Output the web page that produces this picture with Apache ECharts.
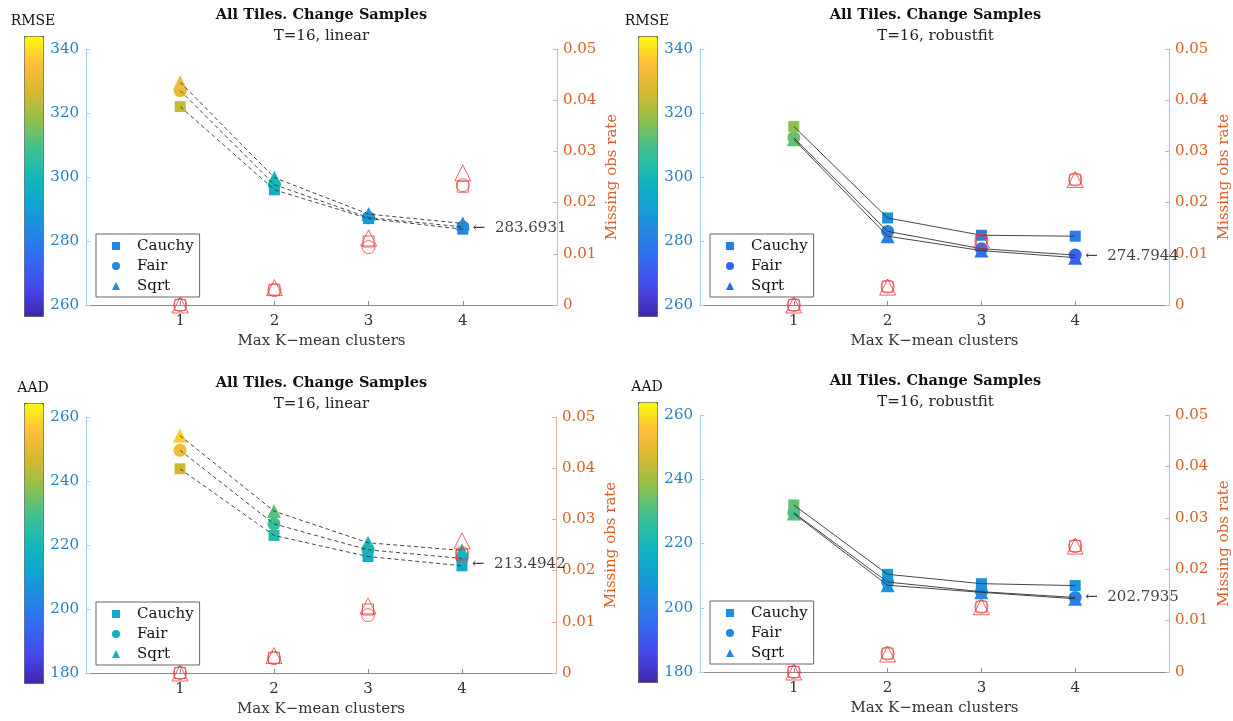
<!DOCTYPE html>
<html>
<head>
<meta charset="utf-8">
<title>All Tiles. Change Samples</title>
<script src="https://cdn.jsdelivr.net/npm/echarts@6/dist/echarts.min.js"></script>
<style>
  html, body { margin: 0; padding: 0; background: #ffffff; }
  #chart { width: 1233px; height: 721px; }
</style>
</head>
<body>
<div id="chart"></div>
<script>
// ---- data -------------------------------------------------------------
const clusters = [1, 2, 3, 4];
const estimators = ['Cauchy', 'Fair', 'Sqrt'];

// RMSE, linear fit
const rmseLinCauchy = [322.0, 296.0, 287.0, 283.6931];
const rmseLinFair   = [327.0, 297.6, 287.3, 284.4];
const rmseLinSqrt   = [329.6, 299.8, 288.4, 285.5];
// RMSE, robustfit
const rmseRobCauchy = [315.8, 287.2, 281.8, 281.5];
const rmseRobFair   = [312.3, 283.0, 277.6, 275.6];
const rmseRobSqrt   = [311.8, 281.5, 277.0, 274.7944];
// AAD, linear fit
const aadLinCauchy  = [243.8, 223.0, 216.4, 213.4942];
const aadLinFair    = [249.6, 226.6, 218.5, 215.8];
const aadLinSqrt    = [254.2, 230.6, 220.7, 218.3];
// AAD, robustfit
const aadRobCauchy  = [232.0, 210.4, 207.5, 206.9];
const aadRobFair    = [229.6, 208.0, 205.0, 203.2];
const aadRobSqrt    = [229.3, 207.0, 204.8, 202.7935];

// Missing observation rate (right axis)
const missLinCauchy = [0, 0.0030, 0.0124, 0.0231];
const missLinFair   = [0, 0.0029, 0.0113, 0.0234];
const missLinSqrt   = [0, 0.0034, 0.0131, 0.0258];
const missRobCauchy = [0, 0.0036, 0.0127, 0.0245];
const missRobFair   = [0, 0.0036, 0.0127, 0.0245];
const missRobSqrt   = [0, 0.0035, 0.0127, 0.0245];

const rmseRange = [260, 340];
const aadRange  = [180, 260];
const missRange = [0, 0.05];

// ---- styling ------------------------------------------------------------
const FONT = 'DejaVu Serif';
const PARULA = ['#3e26a8', '#4747eb', '#3468f2', '#2387e2', '#10a4d2', '#13b8b8',
                '#40c190', '#90c04c', '#d6b832', '#fdbe3a', '#f9fb0e'];
const LEFT_LABEL = '#2a7fc2', LEFT_LINE = '#a3cfe0';
const RIGHT_LABEL = '#d9602a', RIGHT_LINE = '#e8b092';
const MISS_RED = '#e8403e';
const SHAPES = ['rect', 'circle', 'triangle'];
const SIZES = [11, 13, 14];
const MISS_SIZES = [11, 13, 16];

function hexToRgb(h) { return [1, 3, 5].map(i => parseInt(h.slice(i, i + 2), 16)); }
function parula(v, lo, hi) {
  let t = Math.max(0, Math.min(1, (v - lo) / (hi - lo))) * (PARULA.length - 1);
  const i = Math.min(Math.floor(t), PARULA.length - 2), f = t - i;
  const a = hexToRgb(PARULA[i]), b = hexToRgb(PARULA[i + 1]);
  return 'rgb(' + a.map((c, k) => Math.round(c + (b[k] - c) * f)).join(',') + ')';
}

const panels = [
  { grid: { left: 86, top: 49, width: 471, height: 256 }, cb: [24, 36], cbLabel: 'RMSE', cbLabelPos: [33, 21],
    title: [321.5, 15, 36], sub: 'T=16, linear', legend: [96, 234], range: rmseRange, dashed: true,
    vals: [rmseLinCauchy, rmseLinFair, rmseLinSqrt], miss: [missLinCauchy, missLinFair, missLinSqrt] },
  { grid: { left: 700, top: 49, width: 471, height: 256 }, cb: [638, 36], cbLabel: 'RMSE', cbLabelPos: [647, 21],
    title: [935.5, 15, 36], sub: 'T=16, robustfit', legend: [710, 234], range: rmseRange, dashed: false,
    vals: [rmseRobCauchy, rmseRobFair, rmseRobSqrt], miss: [missRobCauchy, missRobFair, missRobSqrt] },
  { grid: { left: 86, top: 417, width: 470, height: 256 }, cb: [24, 403], cbLabel: 'AAD', cbLabelPos: [33, 388],
    title: [321.5, 383, 404], sub: 'T=16, linear', legend: [96, 602], range: aadRange, dashed: true,
    vals: [aadLinCauchy, aadLinFair, aadLinSqrt], miss: [missLinCauchy, missLinFair, missLinSqrt] },
  { grid: { left: 700, top: 415, width: 471, height: 257 }, cb: [638, 402], cbLabel: 'AAD', cbLabelPos: [647, 387],
    title: [935.5, 381, 402], sub: 'T=16, robustfit', legend: [710, 601], range: aadRange, dashed: false,
    vals: [aadRobCauchy, aadRobFair, aadRobSqrt], miss: [missRobCauchy, missRobFair, missRobSqrt] }
];

const option = {
  animation: false,
  backgroundColor: '#ffffff',
  textStyle: { fontFamily: FONT },
  grid: [], xAxis: [], yAxis: [], series: [], visualMap: [], legend: [], graphic: []
};

panels.forEach((p, pi) => {
  option.grid.push(Object.assign({ containLabel: false }, p.grid));

  option.xAxis.push({
    type: 'value', gridIndex: pi, min: 0, max: 5, interval: 1,
    name: 'Max K\u2212mean clusters', nameLocation: 'middle', nameGap: 29,
    nameTextStyle: { fontFamily: FONT, fontSize: 15, color: '#333' },
    axisLine: { show: true, lineStyle: { color: '#8c8c8c', width: 1 } },
    axisTick: { show: true, inside: true, length: 4, customValues: clusters, lineStyle: { color: '#8c8c8c' } },
    axisLabel: { customValues: clusters, margin: 9, fontFamily: FONT, fontSize: 15, color: '#333' },
    splitLine: { show: false }
  });

  option.yAxis.push({
    type: 'value', gridIndex: pi, position: 'left', min: p.range[0], max: p.range[1], interval: 20,
    axisLine: { show: true, lineStyle: { color: LEFT_LINE, width: 1 } },
    axisTick: { show: true, inside: true, length: 4, lineStyle: { color: LEFT_LINE } },
    axisLabel: { margin: 7, fontFamily: FONT, fontSize: 15, color: LEFT_LABEL },
    splitLine: { show: false }
  });
  option.yAxis.push({
    type: 'value', gridIndex: pi, position: 'right', min: missRange[0], max: missRange[1], interval: 0.01,
    name: 'Missing obs rate', nameLocation: 'middle', nameGap: 48, nameRotate: 90,
    nameTextStyle: { fontFamily: FONT, fontSize: 15, color: RIGHT_LABEL },
    axisLine: { show: true, lineStyle: { color: RIGHT_LINE, width: 1 } },
    axisTick: { show: true, inside: true, length: 4, lineStyle: { color: RIGHT_LINE } },
    axisLabel: { margin: 6, fontFamily: FONT, fontSize: 15, color: RIGHT_LABEL,
                 formatter: v => (v === 0 ? '0' : v.toFixed(2)) },
    splitLine: { show: false }
  });

  const colored = [];
  // colour-mapped error markers
  p.vals.forEach((vals, si) => {
    colored.push(option.series.length);
    option.series.push({
      type: 'scatter', name: estimators[si], xAxisIndex: pi, yAxisIndex: 2 * pi,
      symbol: SHAPES[si], symbolSize: SIZES[si], z: 2,
      itemStyle: { opacity: 1 },
      data: clusters.map((c, i) => [c, vals[i]])
    });
  });
  // connecting lines
  p.vals.forEach((vals, si) => {
    option.series.push({
      type: 'line', name: estimators[si] + ' trend', xAxisIndex: pi, yAxisIndex: 2 * pi,
      symbol: 'none', z: 3, silent: true,
      lineStyle: { color: '#333', width: 0.9, type: p.dashed ? [4, 3] : 'solid' },
      data: clusters.map((c, i) => [c, vals[i]])
    });
  });
  // missing observation rate (hollow red markers)
  p.miss.forEach((vals, si) => {
    option.series.push({
      type: 'scatter', name: estimators[si] + ' missing', xAxisIndex: pi, yAxisIndex: 2 * pi + 1,
      symbol: SHAPES[si], symbolSize: MISS_SIZES[si], z: 4, silent: true,
      itemStyle: { color: 'rgba(0,0,0,0)', borderColor: MISS_RED, borderWidth: 1 },
      data: clusters.map((c, i) => [c, vals[i]])
    });
  });
  // best value annotation at the last cluster count
  const last = clusters.length - 1;
  const best = Math.min(...p.vals.map(v => v[last]));
  option.series.push({
    type: 'scatter', name: 'best', xAxisIndex: pi, yAxisIndex: 2 * pi,
    symbolSize: 0, z: 6, silent: true,
    label: { show: true, position: 'right', distance: 10, offset: [0, -1.5],
             fontFamily: FONT, fontSize: 15, color: '#111',
             formatter: d => '\u2190  ' + d.value[1].toFixed(4) },
    data: [[clusters[last], best]]
  });

  option.visualMap.push({
    type: 'continuous', min: p.range[0], max: p.range[1], dimension: 1,
    seriesIndex: colored, calculable: false, hoverLink: false, text: null, showLabel: false,
    orient: 'vertical', left: p.cb[0], top: p.cb[1], itemWidth: 19, itemHeight: 280,
    padding: 0, borderColor: '#555', borderWidth: 1,
    inRange: { color: PARULA }
  });

  option.legend.push({
    left: p.legend[0], top: p.legend[1], orient: 'vertical',
    padding: [2, 6, 1, 16], itemGap: 0, itemWidth: 8, itemHeight: 8,
    backgroundColor: '#fff', borderColor: '#666', borderWidth: 1, borderRadius: 0,
    selectedMode: false,
    textStyle: { fontFamily: FONT, fontSize: 15, color: '#111', lineHeight: 20, padding: [0, 0, 0, 12] },
    data: estimators.map((name, si) => ({
      name, icon: SHAPES[si],
      itemStyle: { color: parula(p.vals[si][last], p.range[0], p.range[1]) }
    }))
  });

  option.graphic.push(
    { type: 'text', x: p.title[0], y: p.title[1], z: 10,
      style: { text: 'All Tiles. Change Samples', font: 'bold 14.5px "' + FONT + '"', fill: '#111',
               align: 'center', verticalAlign: 'middle' } },
    { type: 'text', x: p.title[0], y: p.title[2], z: 10,
      style: { text: p.sub, font: '15px "' + FONT + '"', fill: '#222',
               align: 'center', verticalAlign: 'middle' } },
    { type: 'text', x: p.cbLabelPos[0], y: p.cbLabelPos[1], z: 10,
      style: { text: p.cbLabel, font: '14px "' + FONT + '"', fill: '#111',
               align: 'center', verticalAlign: 'middle' } }
  );
});

const chart = echarts.init(document.getElementById('chart'), null, { renderer: 'canvas' });
chart.setOption(option);
</script>
</body>
</html>
